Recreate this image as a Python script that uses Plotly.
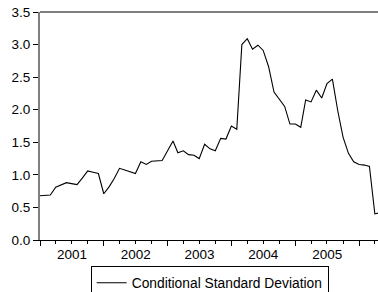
import plotly.graph_objects as go
import pandas as pd

# Monthly observations starting January 2001
start_month = "2001-01-01"
n_obs = 65
months = pd.date_range(start_month, periods=n_obs, freq="MS")

series_name = "Conditional Standard Deviation"
cond_sd = [
    0.68, 0.685, 0.69, 0.81, 0.845, 0.88, 0.865, 0.85, 0.955, 1.06, 1.04, 1.02,
    0.71, 0.82, 0.94, 1.10, 1.075, 1.05, 1.02, 1.20, 1.16, 1.21, 1.215, 1.22,
    1.37, 1.52, 1.34, 1.37, 1.31, 1.30, 1.25, 1.47, 1.40, 1.37, 1.56, 1.55,
    1.75, 1.70, 3.00, 3.09, 2.93, 2.99, 2.91, 2.66, 2.27, 2.17, 2.05, 1.78,
    1.78, 1.73, 2.15, 2.12, 2.30, 2.18, 2.40, 2.47, 1.98, 1.58, 1.33, 1.20,
    1.16, 1.15, 1.13, 0.40, 0.42,
]

y_ticks = [0.0, 0.5, 1.0, 1.5, 2.0, 2.5, 3.0, 3.5]
x_range = ["2001-01-01", "2006-04-19"]

font_family = "Liberation Sans, Arial, sans-serif"

fig = go.Figure()
fig.add_trace(go.Scatter(
    x=months, y=cond_sd, mode="lines", name=series_name,
    line=dict(color="#000000", width=1.1),
    showlegend=True,
))

fig.update_layout(
    width=378, height=292,
    margin=dict(l=40, r=0, t=12, b=52, autoexpand=False),
    paper_bgcolor="white", plot_bgcolor="white",
    font=dict(family=font_family, size=13, color="#000000"),
    showlegend=True,
    legend=dict(
        orientation="v", x=0.502, xanchor="center", y=-0.115, yanchor="top",
        bordercolor="#000000", borderwidth=1, bgcolor="white",
        font=dict(family=font_family, size=13.8, color="#000000"),
        itemwidth=30, tracegroupgap=0,
    ),
    shapes=[dict(type="line", xref="paper", yref="paper", x0=0, x1=1, y0=1, y1=1,
                 line=dict(color="#7f7f7f", width=2))],
)

fig.update_xaxes(
    type="date", range=x_range, automargin=False,
    showgrid=False, zeroline=False,
    showline=True, linecolor="#000000", linewidth=1,
    ticks="outside", ticklen=5, tickcolor="#000000", tickwidth=1,
    dtick="M12", tick0="2001-01-01", tickformat="%Y", ticklabelmode="period",
    ticklabelstandoff=-3,
    minor=dict(dtick="M3", ticks="outside", ticklen=3, tickcolor="#000000", tickwidth=1, showgrid=False),
    tickfont=dict(family=font_family, size=13.5),
)
fig.update_yaxes(
    range=[0, 3.5], tickvals=y_ticks, tickformat=".1f", automargin=False,
    showgrid=False, zeroline=False,
    showline=True, linecolor="#7f7f7f", linewidth=2,
    ticks="outside", ticklen=5, tickcolor="#000000", tickwidth=1,
    tickfont=dict(family=font_family, size=13.5),
)

fig.write_html(
    "out.html",
    config={"displayModeBar": False},
    post_script="document.body.style.margin='0';document.body.style.overflow='hidden';",
)
